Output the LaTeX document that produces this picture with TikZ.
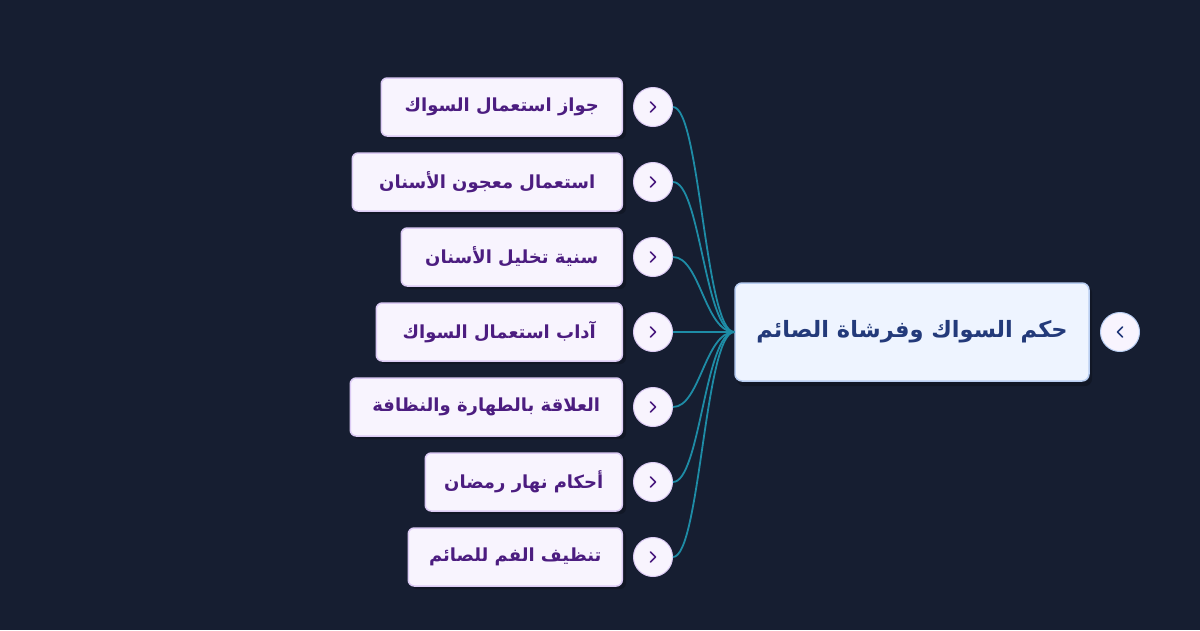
\documentclass[tikz,border=0pt]{standalone}
\usepackage{fontspec}
\TeXXeTstate=1
\newfontfamily\arabicfont[Script=Arabic]{DejaVu Sans}
\definecolor{bg}{HTML}{161E31}
\definecolor{kidfill}{HTML}{F8F4FE}
\definecolor{kidline}{HTML}{DCCBF4}
\definecolor{kidtext}{HTML}{4C1D80}
\definecolor{rootfill}{HTML}{EEF4FF}
\definecolor{rootline}{HTML}{B9CEF2}
\definecolor{roottext}{HTML}{233A7A}
\definecolor{wire}{HTML}{1E8CA6}
\definecolor{shadowc}{HTML}{111726}
\tikzset{
  x=1pt, y=-1pt,
  kidbox/.style={draw=kidline, line width=1.5pt, fill=kidfill, rounded corners=6pt,
    minimum height=58pt, anchor=east, inner sep=0pt, text=kidtext,
    font=\arabicfont\bfseries\fontsize{18}{21}\selectfont},
  rootbox/.style={draw=rootline, line width=1.5pt, fill=rootfill, rounded corners=7pt,
    minimum width=354pt, minimum height=98pt, inner sep=0pt, text=roottext,
    font=\arabicfont\bfseries\fontsize{22.5}{27}\selectfont},
  knob/.style={circle, draw=kidline, line width=1pt, fill=kidfill, minimum size=39pt, inner sep=0pt},
  link/.style={draw=wire, line width=1.8pt},
  chev/.style={line width=1.6pt, line cap=round, line join=round},
}
\begin{document}
\begin{tikzpicture}
\fill[bg] (0,0) rectangle (1200,630);
\useasboundingbox (0,0) rectangle (1200,630);

% root
\fill[shadowc, rounded corners=7pt] (737,286) rectangle (1092,386);
\node[rootbox] (root) at (912,332) {\beginR حكم السواك وفرشاة الصائم\endR};
\node[knob, draw=rootline] (rk) at (1120,332) {};
\draw[chev, draw=roottext] (1122.5,327) -- (1117.5,332) -- (1122.5,337);

% children
\foreach \i/\y/\w/\t in {
  1/107/241/{جواز استعمال السواك},
  2/182/270/{استعمال معجون الأسنان},
  3/257/221/{سنية تخليل الأسنان},
  4/332/246/{آداب استعمال السواك},
  5/407/272/{العلاقة بالطهارة والنظافة},
  6/482/197/{أحكام نهار رمضان},
  7/557/214/{تنظيف الفم للصائم}}{
  \fill[shadowc, rounded corners=6pt] (625-\w,\y-27) rectangle (626,\y+32);
  \node[kidbox, minimum width=\w pt] (c\i) at (623,\y) {\beginR\t\endR};
  \node[knob] (k\i) at (653,\y) {};
  \draw[chev, draw=kidtext] (650.5,\y-5) -- (655.5,\y) -- (650.5,\y+5);
  \draw[link] (k\i.east) .. controls (700,\y) and (705,332) .. (root.west);
}
\end{tikzpicture}
\end{document}
